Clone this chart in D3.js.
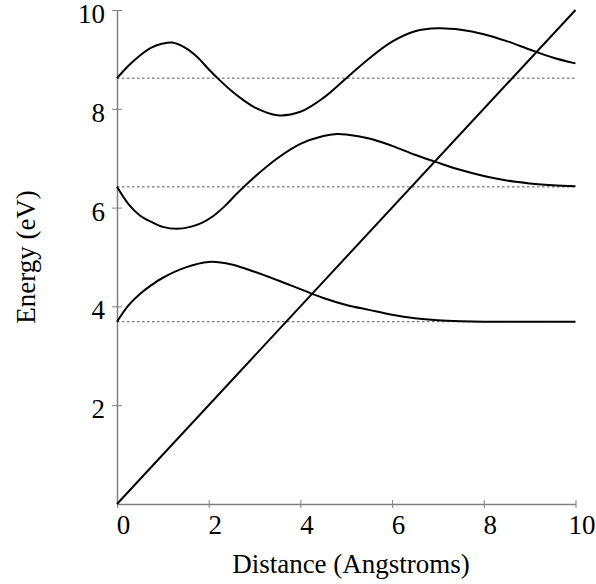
<!DOCTYPE html>
<html>
<head>
<meta charset="utf-8">
<script src="https://cdn.jsdelivr.net/npm/d3@7"></script>
<style>
  body { margin: 0; background: #fff; }
  text { font-family: "Liberation Serif", "Times New Roman", serif; }
</style>
</head>
<body>
<svg id="chart" width="596" height="584"></svg>
<script>
// energy levels (dotted reference lines)
const levels = [8.62, 6.42, 3.69];

// upper curve
const upper = [
  [0, 8.62], [0.25, 8.87], [0.5, 9.08], [0.75, 9.24], [1, 9.32], [1.2, 9.34],
  [1.5, 9.23], [1.75, 9.05], [2, 8.80], [2.25, 8.57], [2.5, 8.36], [2.75, 8.18],
  [3, 8.03], [3.5, 7.87], [4, 7.94], [4.5, 8.22], [5, 8.62], [5.5, 9.02],
  [6, 9.36], [6.5, 9.57], [7, 9.63], [7.5, 9.60], [8, 9.51], [8.5, 9.37],
  [9, 9.20], [9.5, 9.04], [10, 8.92]
];

// middle curve
const middle = [
  [0, 6.42], [0.25, 6.07], [0.5, 5.84], [0.75, 5.71], [1, 5.61], [1.3, 5.57],
  [1.6, 5.61], [1.85, 5.69], [2.1, 5.83], [2.35, 6.03], [2.6, 6.27], [3, 6.62],
  [3.5, 7.00], [4, 7.29], [4.5, 7.45], [4.8, 7.49], [5, 7.48], [5.5, 7.40],
  [6, 7.25], [6.5, 7.07], [7, 6.91], [7.5, 6.76], [8, 6.64], [8.5, 6.55],
  [9, 6.49], [9.5, 6.45], [10, 6.43]
];

// lower curve
const lower = [
  [0, 3.69], [0.25, 4.02], [0.5, 4.25], [0.75, 4.43], [1, 4.58], [1.5, 4.79],
  [2, 4.90], [2.5, 4.85], [3, 4.70], [3.5, 4.53], [4, 4.35], [4.5, 4.17],
  [5, 4.03], [5.5, 3.93], [6, 3.83], [6.5, 3.76], [7, 3.72], [7.5, 3.70],
  [8, 3.69], [9, 3.69], [10, 3.69]
];

// straight line
const diagonal = [[0, 0], [10, 10]];

const xTicks = [0, 2, 4, 6, 8, 10];
const yTicks = [2, 4, 6, 8, 10];

const svg = d3.select('#chart');
const x = d3.scaleLinear().domain([0, 10]).range([117, 575.5]);
const y = d3.scaleLinear().domain([0, 10]).range([504, 10]);

const axisColor = '#808080';
const serif = '"Liberation Serif", "Times New Roman", serif';

// x axis
const gx = svg.append('g')
  .attr('transform', `translate(0,${y(0)})`)
  .call(d3.axisBottom(x).tickValues(xTicks).tickSizeOuter(0).tickFormat(d3.format('d')));
gx.select('.domain').attr('stroke', axisColor).attr('stroke-width', 1.5);
gx.selectAll('.tick line').attr('stroke', axisColor).attr('y1', -4).attr('y2', 4);
gx.selectAll('.tick text')
  .attr('y', 29.5).attr('dy', 0).attr('dx', 6)
  .attr('fill', '#000').style('font-size', '27px')
  .style('font-family', serif);

// y axis
const gy = svg.append('g')
  .attr('transform', `translate(${x(0)},0)`)
  .call(d3.axisLeft(y).tickValues(yTicks).tickSizeOuter(0).tickFormat(d3.format('d')));
gy.select('.domain').attr('stroke', axisColor).attr('stroke-width', 1.5);
gy.selectAll('.tick line').attr('stroke', axisColor).attr('x1', -5).attr('x2', 5);
gy.selectAll('.tick text')
  .attr('x', -12).attr('dy', '0.46em')
  .attr('fill', '#000').style('font-size', '27px')
  .style('font-family', serif);

// dotted levels
svg.selectAll('.level')
  .data(levels)
  .enter().append('line')
  .attr('class', 'level')
  .attr('x1', x(0)).attr('x2', x(10))
  .attr('y1', d => y(d)).attr('y2', d => y(d))
  .attr('stroke', '#555')
  .attr('stroke-width', 1)
  .attr('stroke-dasharray', '2.5,2.5');

const line = d3.line()
  .x(d => x(d[0]))
  .y(d => y(d[1]))
  .curve(d3.curveCatmullRom.alpha(0.5));

[upper, middle, lower, diagonal].forEach(series => {
  svg.append('path')
    .datum(series)
    .attr('d', line)
    .attr('fill', 'none')
    .attr('stroke', '#000')
    .attr('stroke-width', 2);
});

// axis titles
svg.append('text')
  .attr('x', 351).attr('y', 573)
  .attr('text-anchor', 'middle')
  .style('font-size', '27px')
  .text('Distance (Angstroms)');

svg.append('text')
  .attr('transform', 'translate(35,257) rotate(-90)')
  .attr('text-anchor', 'middle')
  .style('font-size', '27px')
  .text('Energy (eV)');
</script>
</body>
</html>
